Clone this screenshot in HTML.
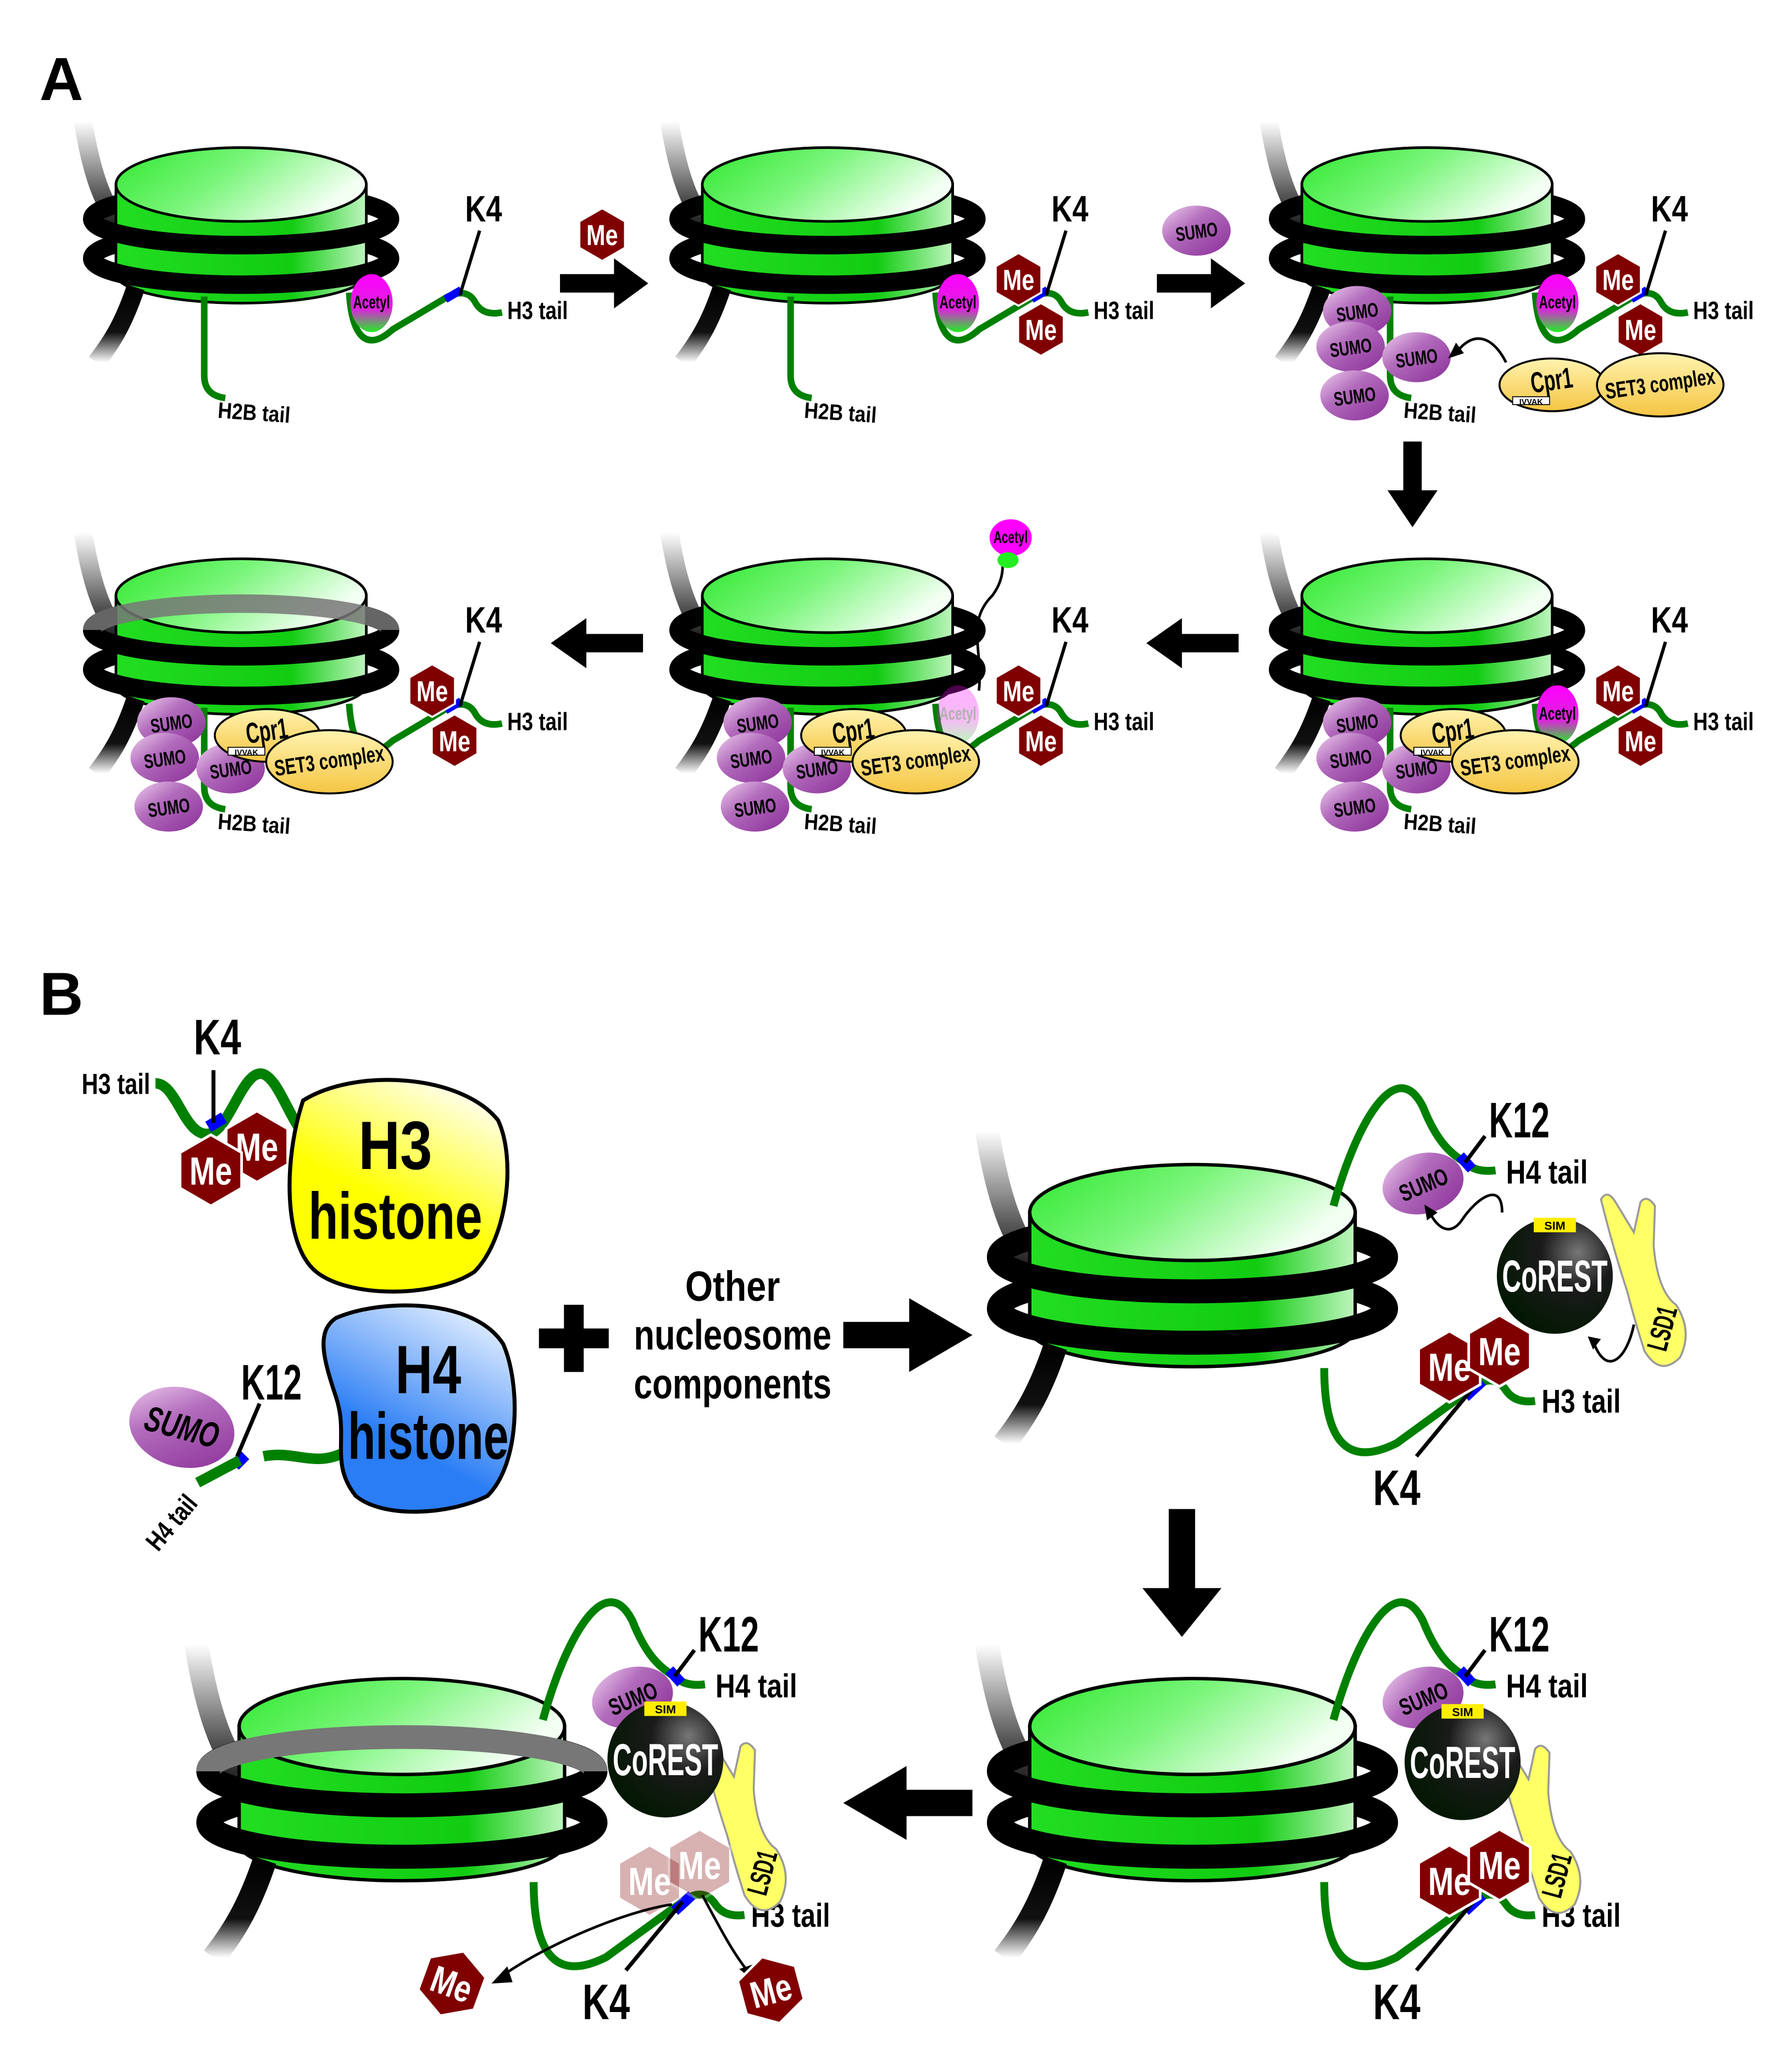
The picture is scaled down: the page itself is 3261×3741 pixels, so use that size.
<!DOCTYPE html>
<html><head><meta charset="utf-8"><style>
html,body{margin:0;padding:0;background:#fff;}
svg{display:block}
text{font-family:"Liberation Sans Narrow","Liberation Sans",sans-serif;font-weight:bold;}
</style></head><body>
<svg width="3261" height="3741" viewBox="0 0 1360 1560" preserveAspectRatio="none" xmlns="http://www.w3.org/2000/svg">
<defs>
<linearGradient id="gtop" x1="0" y1="0" x2="1" y2="0.4"><stop offset="0" stop-color="#2ee82e"/><stop offset="0.5" stop-color="#7af57a"/><stop offset="1" stop-color="#f4fff4"/></linearGradient>
<linearGradient id="gbody" x1="0" y1="0" x2="1" y2="0"><stop offset="0" stop-color="#22dd22"/><stop offset="0.7" stop-color="#11cc11"/><stop offset="1" stop-color="#bff5bf"/></linearGradient>
<linearGradient id="gdna" x1="0" y1="0" x2="0" y2="1"><stop offset="0" stop-color="#fff"/><stop offset="0.6" stop-color="#555"/><stop offset="1" stop-color="#000"/></linearGradient>
<linearGradient id="gdna2" x1="0" y1="0" x2="0" y2="1"><stop offset="0" stop-color="#000"/><stop offset="0.6" stop-color="#111"/><stop offset="1" stop-color="#fff"/></linearGradient>
<linearGradient id="gsumo" x1="0" y1="0" x2="1" y2="1"><stop offset="0" stop-color="#f0d0f0"/><stop offset="0.4" stop-color="#b26cbc"/><stop offset="1" stop-color="#8a2f98"/></linearGradient>
<linearGradient id="gacet" x1="0" y1="0" x2="0" y2="1"><stop offset="0" stop-color="#ff00ff"/><stop offset="0.6" stop-color="#dd22dd"/><stop offset="1" stop-color="#22ee22"/></linearGradient>
<radialGradient id="gcor" cx="0.7" cy="0.3" r="0.8"><stop offset="0" stop-color="#777"/><stop offset="0.4" stop-color="#1a1a1a"/><stop offset="1" stop-color="#001800"/></radialGradient>
<linearGradient id="gcpr" x1="0" y1="0" x2="0" y2="1"><stop offset="0" stop-color="#fff3b0"/><stop offset="1" stop-color="#f5c542"/></linearGradient>
<linearGradient id="gh3" x1="0.8" y1="0" x2="0.3" y2="1"><stop offset="0" stop-color="#fff"/><stop offset="0.6" stop-color="#ffff00"/></linearGradient>
<linearGradient id="gh4" x1="0.8" y1="0" x2="0.3" y2="1"><stop offset="0" stop-color="#e8f2ff"/><stop offset="0.7" stop-color="#2a7df5"/></linearGradient>

<g id="nuc">
  <path d="M-120 -48 C-112 0,-100 35,-70 45" stroke="url(#gdna)" stroke-width="14" fill="none"/>
  <ellipse cx="0" cy="26" rx="113" ry="20" fill="none" stroke="#000" stroke-width="14"/>
  <ellipse cx="0" cy="56" rx="113" ry="20" fill="none" stroke="#000" stroke-width="14"/>
  <path d="M-95 0 V68 A95 22 0 0 0 95 68 V0 Z" fill="url(#gbody)" stroke="#000" stroke-width="2"/>
  <ellipse cx="0" cy="0" rx="95" ry="28" fill="url(#gtop)" stroke="#000" stroke-width="2"/>
  <path d="M-113 26 A113 20 0 0 0 113 26" fill="none" stroke="#000" stroke-width="14"/>
  <path d="M-113 56 A113 20 0 0 0 113 56" fill="none" stroke="#000" stroke-width="14"/>
  <path d="M-80 78 C-90 108,-100 122,-110 135" stroke="url(#gdna2)" stroke-width="14" fill="none"/>
</g>

<g id="me"><polygon points="0,-20 17.3,-10 17.3,10 0,20 -17.3,10 -17.3,-10" fill="#800000" stroke="#fff" stroke-width="1.5"/><text x="0" y="8" font-size="22" fill="#fff" text-anchor="middle" textLength="24" lengthAdjust="spacingAndGlyphs">Me</text></g>
<g id="sumo"><ellipse cx="0" cy="0" rx="26" ry="19" fill="url(#gsumo)"/><text x="0" y="6" font-size="15" text-anchor="middle" transform="rotate(-8)" textLength="32" lengthAdjust="spacingAndGlyphs">SUMO</text></g>
<g id="acet"><ellipse cx="0" cy="0" rx="16" ry="22" fill="url(#gacet)"/><text x="0" y="4" font-size="14" text-anchor="middle" textLength="28" lengthAdjust="spacingAndGlyphs">Acetyl</text></g>

<g id="tailsA">
  <path d="M-28 85 V145 Q-28 160 -12 162" stroke="#008000" stroke-width="5" fill="none"/>
  <text x="-18" y="177" font-size="17" transform="rotate(4 -18 177)" textLength="55" lengthAdjust="spacingAndGlyphs">H2B tail</text>
  <path d="M82 82 C84 115,95 128,115 110 L157 85 Q172 78 178 90 Q184 100 198 97" stroke="#008000" stroke-width="5" fill="none"/>
  <path d="M155 87 L167 80" stroke="#0000ff" stroke-width="6"/>
  <path d="M181 35 L166 84" stroke="#000" stroke-width="2.5"/>
  <text x="170" y="28" font-size="28" textLength="28" lengthAdjust="spacingAndGlyphs">K4</text>
  <text x="202" y="102" font-size="19" textLength="46" lengthAdjust="spacingAndGlyphs">H3 tail</text>
</g>
<g id="mepairA"><use href="#me" x="145" y="72"/><use href="#me" x="162" y="110"/></g>
<g id="sumo3">
  <use href="#sumo" x="-53" y="96"/><use href="#sumo" x="-58" y="123"/><use href="#sumo" x="-55" y="160"/><use href="#sumo" x="-8" y="131"/>
</g>
<g id="cpr"><ellipse cx="0" cy="0" rx="40" ry="20" fill="url(#gcpr)" stroke="#000" stroke-width="1.5"/><text x="0" y="4" font-size="22" text-anchor="middle" transform="rotate(-8)" textLength="32" lengthAdjust="spacingAndGlyphs">Cpr1</text><rect x="-30" y="9" width="28" height="6" fill="#fff" stroke="#000" stroke-width="0.7"/><text x="-16" y="15" font-size="6" text-anchor="middle">IVVAK</text></g>
<g id="set3"><ellipse cx="0" cy="0" rx="48" ry="24" fill="url(#gcpr)" stroke="#000" stroke-width="1.5"/><text x="0" y="5" font-size="17" text-anchor="middle" transform="rotate(-8)" textLength="84" lengthAdjust="spacingAndGlyphs">SET3 complex</text></g>

<g id="btails">
  <path d="M107 -5 C125 -70,155 -120,175 -80 C185 -55,195 -45,207 -38 Q215 -30 230 -32" stroke="#008000" stroke-width="6" fill="none"/>
  <path d="M203 -43 L212 -33" stroke="#0000ff" stroke-width="8"/>
  <path d="M222 -58 L207 -38" stroke="#000" stroke-width="3"/>
  <text x="225" y="-57" font-size="38" textLength="46" lengthAdjust="spacingAndGlyphs">K12</text>
  <text x="238" y="-22" font-size="25" textLength="62" lengthAdjust="spacingAndGlyphs">H4 tail</text>
  <path d="M100 118 C100 170,115 195,155 175 L210 135 Q228 120 238 135 Q245 145 260 143" stroke="#008000" stroke-width="6" fill="none"/>
  <path d="M207 140 L220 128" stroke="#0000ff" stroke-width="8"/>
  <path d="M213 133 L170 185" stroke="#000" stroke-width="3"/>
  <text x="137" y="222" font-size="38" textLength="36" lengthAdjust="spacingAndGlyphs">K4</text>
  <text x="265" y="152" font-size="25" textLength="60" lengthAdjust="spacingAndGlyphs">H3 tail</text>
</g>
<g id="corest"><circle r="44" fill="url(#gcor)"/><rect x="-16" y="-44" width="32" height="11" fill="#ffee00"/><text x="0" y="-35" font-size="9" text-anchor="middle">SIM</text><text x="0" y="12" font-size="34" fill="#fff" text-anchor="middle" font-weight="normal" textLength="80" lengthAdjust="spacingAndGlyphs">CoREST</text></g>
<g id="lsd1"><path d="M-35 -60 Q-30 -68 -24 -58 L-10 -35 L-5 -58 Q0 -64 6 -55 L5 -25 Q8 10 22 20 Q35 40 25 60 Q10 75 -2 55 Q-10 30 -15 10 Q-25 -20 -35 -60 Z" fill="#ffff66" stroke="#999" stroke-width="1.5"/><text x="12" y="45" font-size="22" text-anchor="middle" transform="rotate(-75 12 38)" textLength="34" lengthAdjust="spacingAndGlyphs">LSD1</text></g>
</defs>

<!-- PANEL A -->
<text x="30" y="76" font-size="46" font-family="Liberation Sans">A</text>

<use href="#nuc" x="183" y="140"/>
<g transform="translate(183 140)"><use href="#tailsA"/><use href="#acet" x="99" y="90"/></g>

<use href="#nuc" x="628" y="140"/>
<g transform="translate(628 140)"><use href="#tailsA"/><use href="#acet" x="99" y="90"/><use href="#mepairA"/></g>

<use href="#nuc" x="1083" y="140"/>
<g transform="translate(1083 140)"><use href="#tailsA"/><use href="#acet" x="99" y="90"/><use href="#mepairA"/><use href="#sumo3"/>
  <use href="#cpr" x="95" y="152"/><use href="#set3" x="177" y="152"/>
  <path d="M60 135 C50 115,35 110,22 128" stroke="#000" stroke-width="2" fill="none"/><path d="M16 132 L28 128 L22 120 Z"/>
</g>

<path d="M425 208 H466 V196 L492 215 L466 234 V222 H425 Z"/>
<use href="#me" x="457" y="178"/>
<path d="M878 208 H919 V196 L945 215 L919 234 V222 H878 Z"/>
<use href="#sumo" x="908" y="175"/>
<path d="M1065 335 V372 H1053 L1072 400 L1091 372 H1079 V335 Z"/>

<use href="#nuc" x="1083" y="452"/>
<g transform="translate(1083 452)"><use href="#tailsA"/><use href="#acet" x="99" y="90"/><use href="#mepairA"/><use href="#sumo3"/>
  <use href="#cpr" x="20" y="106"/><use href="#set3" x="67" y="126"/></g>

<use href="#nuc" x="628" y="452"/>
<g transform="translate(628 452)"><use href="#tailsA"/><use href="#acet" x="99" y="90" opacity="0.3"/><use href="#mepairA"/><use href="#sumo3"/>
  <use href="#cpr" x="20" y="106"/><use href="#set3" x="67" y="126"/>
  <path d="M115 72 C118 40,105 20,125 0 C140 -20,128 -35,134 -42" stroke="#000" stroke-width="2" fill="none"/><path d="M128 -40 L138 -50 L140 -36 Z"/>
</g>
<g transform="translate(767 408)"><ellipse rx="16" ry="14" fill="#ff00ff"/><ellipse cx="-2" cy="17" rx="8" ry="6" fill="#22ee22"/><text x="0" y="4" font-size="13" text-anchor="middle" textLength="26" lengthAdjust="spacingAndGlyphs">Acetyl</text></g>

<use href="#nuc" x="183" y="452"/>
<g transform="translate(183 452)">
  <path d="M-113 26 A113 20 0 0 1 113 26" fill="none" stroke="#777" stroke-width="14" opacity="0.85"/>
  <use href="#tailsA"/><use href="#mepairA"/><use href="#sumo3"/>
  <use href="#cpr" x="20" y="106"/><use href="#set3" x="67" y="126"/></g>

<path d="M940 481 H897 V469 L870 488 L897 507 V495 H940 Z"/>
<path d="M488 481 H445 V469 L418 488 L445 507 V495 H488 Z"/>

<!-- PANEL B -->
<text x="30" y="770" font-size="46" font-family="Liberation Sans">B</text>
<text x="147" y="800" font-size="38" textLength="36" lengthAdjust="spacingAndGlyphs">K4</text>
<text x="62" y="830" font-size="22" textLength="52" lengthAdjust="spacingAndGlyphs">H3 tail</text>
<path d="M118 822 C135 822,140 865,160 860 C175 855,185 810,200 815 C212 820,220 850,232 862" stroke="#008000" stroke-width="8" fill="none"/>
<path d="M158 855 L170 848" stroke="#0000ff" stroke-width="9"/>
<path d="M162 812 V852" stroke="#000" stroke-width="3"/>
<g transform="translate(195 870) scale(1.35)"><use href="#me"/></g>
<g transform="translate(160 888) scale(1.35)"><use href="#me"/></g>
<path d="M230 835 C270 810,350 815,378 850 C392 880,385 940,360 965 C330 985,265 985,240 965 C215 945,215 880,230 835 Z" fill="url(#gh3)" stroke="#000" stroke-width="3"/>
<text x="300" y="887" font-size="52" text-anchor="middle" textLength="56" lengthAdjust="spacingAndGlyphs">H3</text>
<text x="300" y="940" font-size="50" text-anchor="middle" textLength="132" lengthAdjust="spacingAndGlyphs">histone</text>

<path d="M200 1105 C225 1100,240 1115,265 1100" stroke="#008000" stroke-width="8" fill="none"/>
<path d="M178 1112 L186 1104" stroke="#0000ff" stroke-width="9"/>
<path d="M197 1065 L180 1105" stroke="#000" stroke-width="3"/>
<path d="M150 1125 L182 1108" stroke="#008000" stroke-width="8"/>
<g transform="translate(138 1083) rotate(15) scale(1.5)"><ellipse rx="27" ry="20" fill="url(#gsumo)"/><text x="0" y="6" font-size="18" text-anchor="middle" font-style="italic" textLength="38" lengthAdjust="spacingAndGlyphs">SUMO</text></g>
<text x="183" y="1062" font-size="38" textLength="46" lengthAdjust="spacingAndGlyphs">K12</text>
<text x="120" y="1178" font-size="20" transform="rotate(-50 120 1178)" textLength="48" lengthAdjust="spacingAndGlyphs">H4 tail</text>
<path d="M255 1000 C290 985,360 985,382 1020 C395 1050,395 1110,370 1135 C340 1150,290 1152,270 1135 C250 1110,265 1090,255 1060 C245 1030,240 1010,255 1000 Z" fill="url(#gh4)" stroke="#000" stroke-width="3"/>
<text x="325" y="1057" font-size="52" text-anchor="middle" textLength="50" lengthAdjust="spacingAndGlyphs">H4</text>
<text x="325" y="1107" font-size="50" text-anchor="middle" textLength="122" lengthAdjust="spacingAndGlyphs">histone</text>

<path d="M428 990 H443 V1008 H462 V1023 H443 V1041 H428 V1023 H409 V1008 H428 Z"/>
<text x="556" y="987" font-size="32" text-anchor="middle" textLength="72" lengthAdjust="spacingAndGlyphs">Other</text>
<text x="556" y="1024" font-size="32" text-anchor="middle" textLength="150" lengthAdjust="spacingAndGlyphs">nucleosome</text>
<text x="556" y="1061" font-size="32" text-anchor="middle" textLength="150" lengthAdjust="spacingAndGlyphs">components</text>
<path d="M640 1003 H690 V985 L738 1013 L690 1041 V1023 H640 Z"/>

<!-- B1 -->
<g transform="translate(905 920) scale(1.3)"><use href="#nuc"/></g>
<g transform="translate(905 920)">
  <use href="#btails"/>
  <g transform="translate(175 -22) rotate(-15) scale(1.2)"><use href="#sumo"/></g>
  <use href="#corest" x="275" y="48"/>
  <use href="#lsd1" x="345" y="50"/>
  <path d="M235 0 C235 -25,215 -10,205 5 C195 20,185 10,180 0" stroke="#000" stroke-width="2" fill="none"/><path d="M176 -6 L186 0 L178 6 Z"/>
  <path d="M335 85 C330 110,315 125,305 100" stroke="#000" stroke-width="2" fill="none"/><path d="M300 94 L310 96 L304 104 Z"/>
  <g transform="translate(195 117) scale(1.35)"><use href="#me"/></g>
  <g transform="translate(233 105) scale(1.35)"><use href="#me"/></g>
</g>
<path d="M887 1145 V1205 H867 L897 1242 L927 1205 H907 V1145 Z"/>

<!-- B2 -->
<g transform="translate(905 1310) scale(1.3)"><use href="#nuc"/></g>
<g transform="translate(905 1310)">
  <use href="#btails"/>
  <use href="#lsd1" x="265" y="75"/>
  <g transform="translate(175 -22) rotate(-15) scale(1.2)"><use href="#sumo"/></g>
  <use href="#corest" x="205" y="27"/>
  <g transform="translate(195 117) scale(1.35)"><use href="#me"/></g>
  <g transform="translate(233 105) scale(1.35)"><use href="#me"/></g>
</g>
<path d="M738 1358 H688 V1340 L640 1368 L688 1396 V1378 H738 Z"/>

<!-- B3 -->
<g transform="translate(305 1310) scale(1.3)"><use href="#nuc"/></g>
<g transform="translate(305 1310)">
  <path d="M-147 34 A147 26 0 0 1 147 34" fill="none" stroke="#777" stroke-width="18"/>
  <use href="#btails"/>
  <use href="#lsd1" x="262" y="73"/>
  <g transform="translate(175 -22) rotate(-15) scale(1.2)"><use href="#sumo"/></g>
  <use href="#corest" x="200" y="25"/>
  <g transform="translate(188 117) scale(1.35)" opacity="0.3"><use href="#me"/></g>
  <g transform="translate(226 105) scale(1.35)" opacity="0.3"><use href="#me"/></g>
  <path d="M205 135 C170 140,110 165,75 190" stroke="#000" stroke-width="2" fill="none"/><path d="M68 195 L80 182 L84 194 Z"/>
  <path d="M228 128 C240 150,250 170,262 185" stroke="#000" stroke-width="2" fill="none"/><path d="M266 192 L256 184 L268 180 Z"/>
  <g transform="translate(38 195) rotate(20) scale(1.3)"><use href="#me"/></g>
  <g transform="translate(280 200) rotate(-15) scale(1.3)"><use href="#me"/></g>
</g>
</svg>
</body></html>
